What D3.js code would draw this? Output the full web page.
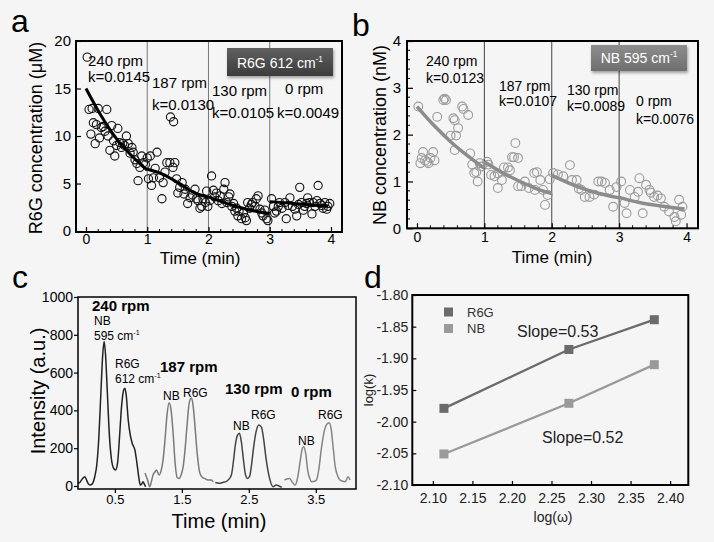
<!DOCTYPE html>
<html><head><meta charset="utf-8">
<script src="https://cdn.jsdelivr.net/npm/d3@7"></script>
<style>
body{margin:0;background:#f5f5f5;}
svg{display:block;font-family:"Liberation Sans",Arial,sans-serif;}
</style>
</head><body>
<svg id="fig" width="714" height="542"></svg>
<script>
// ---------------- DATA ----------------
const rpmLabels = ["240 rpm", "187 rpm", "130 rpm", "0 rpm"];
const kR6G = ["0.0145", "0.0130", "0.0105", "0.0049"];
const kNB = ["0.0123", "0.0107", "0.0089", "0.0076"];
const segBounds = [1, 2, 3];
const timeTicks = [0, 1, 2, 3, 4];

const r6gTicks = [0, 5, 10, 15, 20];
const r6gPoints = [
 [0.02,18.3],[0.05,12.8],[0.08,10.2],[0.1,12.9],[0.12,11.4],[0.15,9.2],[0.17,11.2],[0.2,12.9],[0.22,9.8],[0.25,10.9],
 [0.28,11.0],[0.31,10.5],[0.34,12.8],[0.36,10.0],[0.39,8.5],[0.42,11.1],[0.45,9.5],[0.47,7.9],[0.5,9.0],[0.52,10.8],
 [0.55,9.3],[0.58,8.8],[0.6,9.2],[0.63,9.0],[0.66,10.0],[0.69,9.2],[0.72,8.2],[0.75,8.8],[0.77,8.3],[0.8,7.5],
 [0.83,7.1],[0.85,5.3],[0.88,6.7],[0.91,7.9],[0.94,7.2],[0.97,7.0],[1.0,7.7],
 [1.02,5.5],[1.05,7.9],[1.07,4.8],[1.1,5.6],[1.13,6.6],[1.16,8.3],[1.2,5.6],[1.24,3.4],[1.26,5.1],[1.29,6.2],
 [1.32,7.2],[1.37,7.2],[1.38,12.0],[1.43,11.5],[1.42,6.7],[1.45,7.2],[1.48,5.5],[1.5,4.0],[1.53,4.6],[1.57,5.1],
 [1.6,3.9],[1.62,4.4],[1.66,2.9],[1.7,3.5],[1.74,3.8],[1.78,4.4],[1.8,3.4],[1.83,3.2],[1.86,2.4],[1.89,2.6],
 [1.91,3.4],[1.95,3.0],[1.97,4.2],[1.99,2.6],
 [2.02,3.2],[2.05,5.8],[2.08,4.3],[2.1,3.6],[2.13,4.0],[2.16,3.2],[2.19,3.7],[2.22,2.9],[2.25,4.4],[2.27,5.1],
 [2.3,3.0],[2.33,3.6],[2.35,3.9],[2.38,2.6],[2.41,2.9],[2.43,2.1],[2.46,2.4],[2.48,1.6],[2.5,2.1],[2.54,1.3],
 [2.57,1.9],[2.6,1.4],[2.62,1.1],[2.64,3.0],[2.67,2.4],[2.7,2.8],[2.72,3.0],[2.76,2.6],[2.78,3.4],[2.81,3.7],
 [2.84,2.3],[2.87,1.9],[2.89,1.6],[2.92,2.2],[2.95,1.3],[2.97,1.1],
 [3.03,3.4],[3.06,2.6],[3.08,1.9],[3.11,2.1],[3.14,2.6],[3.16,3.0],[3.2,2.4],[3.25,3.0],[3.27,1.3],[3.3,2.7],
 [3.33,3.5],[3.37,2.6],[3.41,2.3],[3.44,1.6],[3.47,2.8],[3.49,4.6],[3.52,3.0],[3.55,2.2],[3.57,2.6],[3.6,2.9],
 [3.62,3.5],[3.65,3.0],[3.69,1.8],[3.71,3.0],[3.74,2.6],[3.77,3.2],[3.79,4.8],[3.82,2.9],[3.85,2.7],[3.87,2.4],
 [3.9,3.0],[3.93,2.3],[3.95,2.6],[3.98,2.9]
];
const r6gFit = [
 [[0,15],[0.25,12.1],[0.5,9.7],[0.75,7.9],[1,6.4]],
 [[1,6.5],[1.25,6.0],[1.5,5.1],[1.75,4.1],[2,3.55]],
 [[2,3.6],[2.35,2.8],[2.62,2.3],[2.89,1.95],[3,1.85]],
 [[3,3.1],[3.5,2.85],[3.95,2.6]]
];

const nbTicks = [0, 1, 2, 3, 4];
const nbPoints = [
 [0.02,2.6],[0.05,1.39],[0.07,1.5],[0.09,1.63],[0.12,1.45],[0.15,1.42],[0.17,1.39],[0.2,1.5],[0.24,1.63],[0.26,1.45],
 [0.3,2.38],[0.39,2.74],[0.41,2.77],[0.43,2.74],[0.5,1.98],[0.54,2.35],[0.56,2.31],[0.58,1.98],[0.61,2.14],
 [0.56,1.67],[0.67,2.6],[0.69,2.55],[0.76,2.42],[0.79,1.6],[0.82,1.36],[0.85,1.18],[0.88,1.2],[0.9,1.0],
 [0.93,1.39],[0.96,1.32],
 [1.04,1.42],[1.06,1.36],[1.1,1.14],[1.15,1.11],[1.2,1.17],[1.2,0.86],[1.26,1.03],[1.29,1.3],[1.35,1.3],[1.38,1.24],
 [1.41,1.52],[1.46,1.82],[1.44,1.52],[1.5,1.5],[1.5,0.9],[1.55,0.9],[1.6,1.0],[1.66,0.86],[1.74,1.18],[1.78,1.2],
 [1.83,1.03],[1.75,0.82],[1.87,0.82],[1.94,0.71],[1.9,0.5],[1.97,1.05],
 [2.02,1.18],[2.09,1.15],[2.17,1.11],[2.27,1.35],[2.3,1.03],[2.37,1.03],[2.4,0.85],[2.44,0.82],[2.49,0.67],[2.56,0.67],
 [2.63,0.72],[2.69,1.0],[2.74,1.0],[2.79,0.97],[2.86,0.82],[2.91,0.46],[2.96,0.88],[3.03,1.0],
 [3.08,0.54],[3.11,0.32],[3.16,0.82],[3.23,0.67],[3.28,0.78],[3.3,1.07],[3.35,0.32],[3.4,0.93],[3.45,0.82],[3.47,0.76],
 [3.52,0.67],[3.57,0.7],[3.62,0.64],[3.67,0.46],[3.74,0.36],[3.82,0.24],[3.84,0.15],[3.89,0.61],[3.92,0.29],[3.94,0.46]
];
const nbFit = [
 [[0,2.6],[0.25,2.2],[0.5,1.85],[0.75,1.55],[1,1.28]],
 [[1,1.42],[1.25,1.2],[1.5,1.02],[1.75,0.86],[2,0.74]],
 [[2,1.13],[2.4,0.88],[2.66,0.76],[3,0.65]],
 [[3,0.66],[3.3,0.55],[3.65,0.47],[3.97,0.41]]
];

const specXTicks = [0.5, 1.5, 2.5, 3.5];
const specYTicks = [0, 200, 400, 600, 800, 1000];
const spec240 = [[-0.05,14],[-0.02,20],[0.02,40],[0.05,49],[0.08,30],[0.1,14],[0.13,5],[0.16,10],[0.2,49],[0.23,110],
 [0.26,250],[0.29,480],[0.32,700],[0.34,765],[0.36,700],[0.39,480],[0.42,260],[0.45,140],[0.48,95],[0.51,85],
 [0.54,120],[0.57,260],[0.6,420],[0.63,505],[0.65,517],[0.67,480],[0.7,349],[0.73,270],[0.76,225],[0.8,190],
 [0.83,120],[0.86,40],[0.88,5],[0.9,10],[0.92,23],[0.94,10],[0.96,-4]];
const spec187 = [[0.95,69],[0.99,30],[1.02,-4],[1.05,30],[1.07,58],[1.1,75],[1.12,85],[1.16,58],[1.19,80],[1.22,138],
 [1.25,250],[1.28,380],[1.31,440],[1.34,400],[1.37,279],[1.4,120],[1.43,45],[1.46,40],[1.49,60],[1.52,102],
 [1.55,200],[1.58,330],[1.61,440],[1.645,465],[1.67,420],[1.7,300],[1.73,170],[1.77,67],[1.81,45],[1.84,40],
 [1.89,32],[1.94,32],[1.97,22]];
const spec130 = [[2.0,18],[2.06,14],[2.12,20],[2.16,23],[2.2,35],[2.24,58],[2.27,130],[2.3,220],[2.33,268],[2.36,279],
 [2.39,230],[2.42,138],[2.45,60],[2.48,40],[2.51,49],[2.54,110],[2.57,200],[2.61,290],[2.65,323],[2.69,310],
 [2.72,250],[2.76,138],[2.81,40],[2.86,-4],[2.91,5],[2.95,0],[2.99,-7]];
const spec0 = [[3.03,32],[3.08,38],[3.11,40],[3.15,20],[3.19,5],[3.22,30],[3.24,67],[3.27,140],[3.3,200],[3.32,208],
 [3.35,170],[3.38,80],[3.41,40],[3.44,23],[3.48,25],[3.51,32],[3.55,100],[3.58,190],[3.62,280],[3.66,325],
 [3.7,335],[3.73,300],[3.76,200],[3.79,102],[3.83,50],[3.86,32],[3.9,25],[3.94,23],[3.98,49],[4.01,32]];

const logOmega = [2.114, 2.272, 2.380];
const logkR6G = [-1.979, -1.886, -1.839];
const logkNB = [-2.051, -1.971, -1.910];
const logOmegaTicks = [2.10, 2.15, 2.20, 2.25, 2.30, 2.35, 2.40];
const logkTicks = [-2.10, -2.05, -2.00, -1.95, -1.90, -1.85, -1.80];

// ---------------- DRAW ----------------
const FONT = "'Liberation Sans', Arial, sans-serif";
const svg = d3.select("#fig");
svg.append("rect").attr("width", 714).attr("height", 542).attr("fill", "#f5f5f5");

const defs = svg.append("defs");
function grad(id, c1, c2) {
  const g = defs.append("linearGradient").attr("id", id).attr("x1", 0).attr("y1", 0).attr("x2", 0).attr("y2", 1);
  g.append("stop").attr("offset", "0%").attr("stop-color", c1);
  g.append("stop").attr("offset", "100%").attr("stop-color", c2);
}
grad("gA", "#606060", "#3c3c3c");
grad("gB", "#8e8e8e", "#6e6e6e");
const f = defs.append("filter").attr("id", "sh").attr("x", "-20%").attr("y", "-20%").attr("width", "140%").attr("height", "160%");
f.append("feDropShadow").attr("dx", 1).attr("dy", 2).attr("stdDeviation", 1.5).attr("flood-color", "#000").attr("flood-opacity", 0.35);

function frame(g, x, y) {
  const [x0, x1] = x.range(), [y0, y1] = y.range();
  return g.append("rect").attr("x", x0).attr("y", y1).attr("width", x1 - x0).attr("height", y0 - y1)
    .attr("fill", "none").attr("stroke", "#000");
}
function axis(g, gen, transform, fs, color) {
  const a = g.append("g").attr("transform", transform).call(gen);
  a.attr("font-family", FONT).attr("font-size", fs);
  a.select(".domain").remove();
  a.selectAll("text").attr("fill", color || "#000");
  a.selectAll("line").attr("stroke", "#000").attr("stroke-width", 1.2);
  return a;
}
function minor(g, scale, vals, pos, len) {
  g.append("g").selectAll("line").data(vals).join("line")
    .attr("x1", d => scale(d)).attr("x2", d => scale(d))
    .attr("y1", pos).attr("y2", pos - len)
    .attr("stroke", "#000").attr("stroke-width", 1);
}
function txt(g, x, y, s, fs, opts = {}) {
  return g.append("text").attr("x", x).attr("y", y).attr("font-size", fs).attr("font-family", FONT)
    .attr("fill", opts.fill || "#000").attr("font-weight", opts.bold ? "bold" : null)
    .attr("text-anchor", opts.anchor || "start").text(s);
}
function cmTxt(g, x, y, prefix, fs, opts = {}) {
  const t = txt(g, x, y, "", fs, opts);
  t.append("tspan").text(prefix + "cm");
  t.append("tspan").attr("dy", -fs * 0.42).style("font-size", (fs * 0.6) + "px").text("-1");
  return t;
}
function vLabel(g, x, y, s, fs) {
  return g.append("text").attr("transform", `translate(${x},${y}) rotate(-90)`).attr("text-anchor", "middle")
    .attr("font-size", fs).attr("font-family", FONT).attr("fill", "#000").text(s);
}
const intFmt = d3.format("d");
const minorTime = d3.range(0, 4.01, 0.2).map(v => +v.toFixed(1)).filter(v => !Number.isInteger(v));

// ===== Panel a =====
{
  const g = svg.append("g");
  const x = d3.scaleLinear().domain([-0.163, 4.18]).range([76, 342]);
  const y = d3.scaleLinear().domain([-0.1, 20]).range([232, 41]);
  g.selectAll(".div").data(segBounds).join("line")
    .attr("x1", d => x(d)).attr("x2", d => x(d)).attr("y1", y.range()[0]).attr("y2", y.range()[1])
    .attr("stroke", "#777").attr("stroke-width", 1);
  g.selectAll("circle").data(r6gPoints).join("circle")
    .attr("cx", d => x(d[0])).attr("cy", d => y(d[1])).attr("r", 4.1)
    .attr("fill", "none").attr("stroke", "#111").attr("stroke-width", 1.1);
  const line = d3.line().x(d => x(d[0])).y(d => y(d[1])).curve(d3.curveMonotoneX);
  g.selectAll(".fit").data(r6gFit).join("path").attr("d", line)
    .attr("fill", "none").attr("stroke", "#000").attr("stroke-width", 3);
  frame(g, x, y).attr("stroke-width", 2);
  axis(g, d3.axisBottom(x).tickValues(timeTicks).tickFormat(intFmt).tickSizeInner(-5).tickSizeOuter(0).tickPadding(2),
    `translate(0,${y.range()[0]})`, 14);
  minor(g, x, minorTime, y.range()[0], 3);
  axis(g, d3.axisLeft(y).tickValues(r6gTicks).tickFormat(intFmt).tickSizeInner(-5).tickSizeOuter(0).tickPadding(5),
    `translate(${x.range()[0]},0)`, 15);
  txt(g, 200, 264, "Time (min)", 17, {anchor: "middle"});
  vLabel(g, 42, 138, "R6G concentration (\u03bcM)", 18);
  txt(g, 11, 32, "a", 32);
  const pos = [[88,66,88,82],[152,88,152,110],[212,96,212,118],[285,94,277,118]];
  rpmLabels.forEach((s, i) => {
    txt(g, pos[i][0], pos[i][1], s, 15);
    txt(g, pos[i][2], pos[i][3], "k=" + kR6G[i], 15);
  });
  g.append("rect").attr("x", 227).attr("y", 48).attr("width", 106).attr("height", 28)
    .attr("fill", "url(#gA)").attr("filter", "url(#sh)");
  cmTxt(g, 280, 68, "R6G 612 ", 14, {fill: "#fff", anchor: "middle"});
}

// ===== Panel b =====
{
  const g = svg.append("g");
  const x = d3.scaleLinear().domain([-0.148, 4.17]).range([407, 698]);
  const y = d3.scaleLinear().domain([0, 4]).range([228.3, 41]);
  g.selectAll(".div").data(segBounds).join("line")
    .attr("x1", d => x(d)).attr("x2", d => x(d)).attr("y1", y.range()[0]).attr("y2", y.range()[1])
    .attr("stroke", "#444").attr("stroke-width", 1);
  g.selectAll("circle").data(nbPoints).join("circle")
    .attr("cx", d => x(d[0])).attr("cy", d => y(d[1])).attr("r", 4.4)
    .attr("fill", "none").attr("stroke", "#9a9a9a").attr("stroke-width", 1.1);
  const line = d3.line().x(d => x(d[0])).y(d => y(d[1])).curve(d3.curveMonotoneX);
  g.selectAll(".fit").data(nbFit).join("path").attr("d", line)
    .attr("fill", "none").attr("stroke", "#8c8c8c").attr("stroke-width", 3.5);
  frame(g, x, y).attr("stroke-width", 2);
  axis(g, d3.axisBottom(x).tickValues(timeTicks).tickFormat(intFmt).tickSizeInner(-5).tickSizeOuter(0).tickPadding(4),
    `translate(0,${y.range()[0]})`, 14);
  minor(g, x, minorTime, y.range()[0], 3);
  axis(g, d3.axisLeft(y).tickValues(nbTicks).tickFormat(intFmt).tickSizeInner(-6).tickSizeOuter(0).tickPadding(6),
    `translate(${x.range()[0]},0)`, 15);
  const minorY = d3.range(0, 4.01, 0.2).map(v => +v.toFixed(1)).filter(v => !Number.isInteger(v));
  g.append("g").selectAll("line").data(minorY).join("line")
    .attr("x1", x.range()[0]).attr("x2", x.range()[0] + 3).attr("y1", d => y(d)).attr("y2", d => y(d))
    .attr("stroke", "#000");
  txt(g, 552, 263, "Time (min)", 17, {anchor: "middle"});
  vLabel(g, 386, 135, "NB concentration (nM)", 18);
  txt(g, 352, 36, "b", 32);
  const pos = [[426,66,426,83],[499,91,499,106],[567,95,567,111],[636,106,636,124]];
  rpmLabels.forEach((s, i) => {
    txt(g, pos[i][0], pos[i][1], s, 14);
    txt(g, pos[i][2], pos[i][3], "k=" + kNB[i], 14);
  });
  g.append("rect").attr("x", 591).attr("y", 45).attr("width", 96).attr("height", 26)
    .attr("fill", "url(#gB)").attr("filter", "url(#sh)");
  cmTxt(g, 639, 63, "NB 595 ", 14, {fill: "#fff", anchor: "middle"});
}

// ===== Panel c =====
{
  const g = svg.append("g");
  const x = d3.scaleLinear().domain([-0.05, 4.1]).range([78, 356]);
  const y = d3.scaleLinear().domain([-16, 1000]).range([489, 297]);
  const line = d3.line().x(d => x(d[0])).y(d => y(d[1])).curve(d3.curveMonotoneX);
  const series = [[spec240, "#222"], [spec187, "#7a7a7a"], [spec130, "#444"], [spec0, "#858585"]];
  series.forEach(([d, c]) => {
    g.append("path").datum(d).attr("d", line).attr("fill", "none").attr("stroke", c).attr("stroke-width", 1.5);
  });
  frame(g, x, y).attr("stroke-width", 1.5);
  axis(g, d3.axisBottom(x).tickValues(specXTicks).tickFormat(d3.format(".1f")).tickSizeInner(4).tickSizeOuter(0).tickPadding(2),
    `translate(0,${y.range()[0]})`, 13);
  axis(g, d3.axisLeft(y).tickValues(specYTicks).tickFormat(intFmt).tickSizeInner(4).tickSizeOuter(0).tickPadding(1),
    `translate(${x.range()[0]},0)`, 14);
  txt(g, 219, 528, "Time (min)", 20, {anchor: "middle"});
  vLabel(g, 45, 391, "Intensity (a.u.)", 20);
  txt(g, 12, 288, "c", 32);
  txt(g, 92, 311, rpmLabels[0], 15, {bold: true});
  txt(g, 94, 325, "NB", 12);
  cmTxt(g, 94, 340, "595 ", 12);
  txt(g, 115, 368, "R6G", 12);
  cmTxt(g, 115, 383, "612 ", 12);
  txt(g, 160, 372, rpmLabels[1], 15, {bold: true});
  txt(g, 163, 400, "NB", 12);
  txt(g, 183, 397, "R6G", 12);
  txt(g, 225, 394, rpmLabels[2], 15, {bold: true});
  txt(g, 233, 430, "NB", 12);
  txt(g, 251, 419, "R6G", 12);
  txt(g, 291, 397, rpmLabels[3], 15, {bold: true});
  txt(g, 298, 445, "NB", 12);
  txt(g, 318, 419, "R6G", 12);
}

// ===== Panel d =====
{
  const g = svg.append("g");
  const x = d3.scaleLinear().domain([2.074, 2.423]).range([412.3, 688.3]);
  const y = d3.scaleLinear().domain([-2.10, -1.80]).range([485, 295]);
  const sets = [[logkR6G, "#6b6b6b"], [logkNB, "#9a9a9a"]];
  sets.forEach(([vals, c]) => {
    const pts = logOmega.map((w, i) => [w, vals[i]]);
    g.append("path").datum(pts).attr("d", d3.line().x(d => x(d[0])).y(d => y(d[1])))
      .attr("fill", "none").attr("stroke", c).attr("stroke-width", 2.3);
    g.append("g").selectAll("rect").data(pts).join("rect")
      .attr("x", d => x(d[0]) - 4.5).attr("y", d => y(d[1]) - 4.5).attr("width", 9).attr("height", 9).attr("fill", c);
  });
  frame(g, x, y).attr("stroke-width", 2);
  axis(g, d3.axisBottom(x).tickValues(logOmegaTicks).tickFormat(d => d.toFixed(2)).tickSizeInner(-4).tickSizeOuter(0).tickPadding(8),
    `translate(0,${y.range()[0]})`, 14, "#222");
  axis(g, d3.axisLeft(y).tickValues(logkTicks).tickFormat(d => d.toFixed(2)).tickSizeInner(-4).tickSizeOuter(0).tickPadding(4),
    `translate(${x.range()[0]},0)`, 14, "#222");
  txt(g, 553, 522, "log(\u03c9)", 14, {anchor: "middle", fill: "#222"});
  vLabel(g, 373, 390, "log(k)", 13).attr("fill", "#222");
  txt(g, 364, 288, "d", 32);
  g.append("rect").attr("x", 444).attr("y", 307.5).attr("width", 9).attr("height", 9).attr("fill", "#6b6b6b");
  g.append("rect").attr("x", 444).attr("y", 324).attr("width", 9).attr("height", 9).attr("fill", "#9a9a9a");
  txt(g, 467, 316.5, "R6G", 13, {fill: "#333"});
  txt(g, 467, 333, "NB", 13, {fill: "#333"});
  txt(g, 517, 337, "Slope=0.53", 16, {fill: "#222"});
  txt(g, 542, 443, "Slope=0.52", 16, {fill: "#222"});
}
</script>
</body></html>
